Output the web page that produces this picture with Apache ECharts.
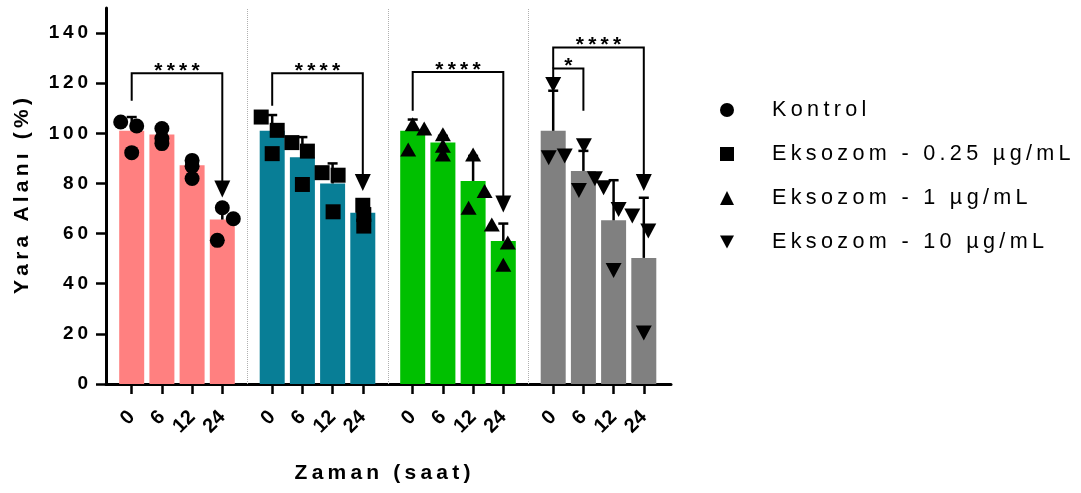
<!DOCTYPE html>
<html><head><meta charset="utf-8">
<script src="https://cdn.jsdelivr.net/npm/echarts@6/dist/echarts.min.js"></script>
<style>html,body{margin:0;padding:0;background:#fff}#c{width:1081px;height:493px}</style>
</head><body><div id="c"></div>
<script>
// ---------- data ----------
const TIMES = ['0', '6', '12', '24'];
const GROUPS = ['Kontrol', 'Eksozom - 0.25 µg/mL', 'Eksozom - 1 µg/mL', 'Eksozom - 10 µg/mL'];
const Y_TICKS = [0, 20, 40, 60, 80, 100, 120, 140];

// bar means (Yara Alanı %) per time 0,6,12,24
const KONTROL_MEAN = [101, 99.5, 87.3, 65.6];
const EKS025_MEAN  = [101, 90.5, 80, 68.3];
const EKS1_MEAN    = [101, 96.3, 81, 57];
const EKS10_MEAN   = [101, 85, 65.3, 50.3];

// upper error bar length (SD)
const KONTROL_SD = [5.5, 2.5, 3.2, 6.4];
const EKS025_SD  = [6.3, 8, 8, 3.7];
const EKS1_SD    = [4.5, 2.7, 10, 7];
const EKS10_SD   = [16, 8, 16, 24];

// individual replicate points per time
const KONTROL_PTS = [[104.5, 102.9, 92.3], [101.9, 97.9, 95.9], [89.2, 86.9, 82], [70.3, 65.9, 57.3]];
const EKS025_PTS  = [[106.5, 101.2, 91.9], [96.3, 92.9, 79.6], [84.3, 83.3, 68.7], [71.3, 67.6, 63]];
const EKS1_PTS    = [[103.6, 101.9, 93.6], [99.6, 95, 91.6], [91.6, 77, 70.3], [63.6, 56.4, 47.6]];
const EKS10_PTS   = [[119.5, 90.3, 91], [95, 77.2, 81.9], [78.3, 69.6, 45.3], [67, 61, 20.3]];

// significance brackets: group, from time idx, to time idx, top, left end, right end, arrow, label
const BR_GROUP = [0, 1, 2, 3, 3];
const BR_FROM  = [0, 0, 0, 0, 0];
const BR_TO    = [3, 3, 3, 3, 1];
const BR_TOP   = [124, 124, 124.5, 134.2, 125.9];
const BR_LEFT  = [113, 111, 109, 125.9, 121];
const BR_RIGHT = [74.4, 77, 68.4, 77, 109];
const BR_ARROW = [1, 1, 1, 1, 0];
const BR_LABEL = ['****', '****', '****', '****', '*'];

// ---------- layout / style ----------
const MEANS = [KONTROL_MEAN, EKS025_MEAN, EKS1_MEAN, EKS10_MEAN];
const SDS = [KONTROL_SD, EKS025_SD, EKS1_SD, EKS10_SD];
const PTS = [KONTROL_PTS, EKS025_PTS, EKS1_PTS, EKS10_PTS];
const BAR_COLORS = ['#FF8080', '#087E96', '#00C000', '#808080'];
const SYMBOLS = ['circle', 'rect', 'triangle', 'path://M0,0L16,0L8,15Z'];
const SYM_SIZES = [15, 15, [16, 14], [16, 15]];
// horizontal scatter spread of replicate markers (px)
const JITTER = [
  [[-11, 5, 0], [0, 0, 0], [0, 0, 0], [0, 11, -5]],
  [[-11, 5, 0], [-10.5, 5, 0], [-10.5, 5.5, 0.5], [0, 1, 1]],
  [[0, 11.5, -4.5], [0, 0, 0], [0, 11.5, -4.5], [-11.5, 4.5, 0]],
  [[0, -4.5, 11.5], [0.5, -4.5, 11.5], [-10, 5, 0], [-11.5, 4.5, 0]]
];
const FIRST = 25.7, GROUP_STEP = 140.5, BAR_STEP = 30.2, X_MAX = 565;
const pos = (g, t) => FIRST + g * GROUP_STEP + t * BAR_STEP;
const POSITIONS = [];
const POS_LABEL = [];
for (let g = 0; g < 4; g++) for (let t = 0; t < 4; t++) { POSITIONS.push(pos(g, t)); POS_LABEL.push(TIMES[t]); }
const SEPS = [0, 1, 2].map(g => (pos(g, 3) + pos(g + 1, 0)) / 2);

const FONT = '"Liberation Sans", Arial, sans-serif';
const sp = s => String(s).split('').join('\u2009');

const barData = [];
const errData = [];
for (let g = 0; g < 4; g++) for (let t = 0; t < 4; t++) {
  barData.push({ value: [pos(g, t), MEANS[g][t]], itemStyle: { color: BAR_COLORS[g] } });
  errData.push([pos(g, t), MEANS[g][t], MEANS[g][t] + SDS[g][t]]);
}
const brData = BR_GROUP.map((g, i) => [pos(g, BR_FROM[i]), pos(g, BR_TO[i]), BR_TOP[i], BR_LEFT[i], BR_RIGHT[i], BR_ARROW[i]]);

const scatterSeries = GROUPS.map((name, g) => {
  const data = [];
  for (let t = 0; t < 4; t++) for (let r = 0; r < 3; r++) data.push([pos(g, t) + JITTER[g][t][r], PTS[g][t][r]]);
  return {
    name, type: 'scatter', data, symbol: SYMBOLS[g], symbolSize: SYM_SIZES[g],
    itemStyle: { color: '#000', opacity: 1 }, z: 6, silent: true
  };
});

const chart = echarts.init(document.getElementById('c'), null, { renderer: 'canvas' });
chart.setOption({
  animation: false,
  backgroundColor: '#fff',
  grid: { left: 106, right: 410, top: 8, bottom: 109, containLabel: false, outerBoundsMode: 'none' },
  legend: {
    orient: 'vertical', left: 715, top: 94, align: 'left',
    itemWidth: 14, itemHeight: 14, itemGap: 22,
    data: GROUPS,
    formatter: n => sp(n),
    textStyle: { fontFamily: FONT, fontSize: 21.6, lineHeight: 21, color: '#000', padding: [0, 0, 0, 33] },
    selectedMode: false
  },
  xAxis: {
    type: 'value', min: 0, max: X_MAX,
    name: sp('Zaman (saat)'), nameLocation: 'middle', nameGap: 79,
    nameTextStyle: { fontFamily: FONT, fontSize: 21, fontWeight: 'bold', color: '#000', padding: [0, 12, 0, 0] },
    axisLine: { show: true, onZero: false, lineStyle: { color: '#000', width: 3 } },
    axisTick: { show: true, customValues: POSITIONS, length: 10, lineStyle: { color: '#000', width: 2.5 } },
    axisLabel: {
      customValues: POSITIONS, rotate: 45, margin: 30,
      formatter: v => { let bi = 0; POSITIONS.forEach((p, i) => { if (Math.abs(p - v) < Math.abs(POSITIONS[bi] - v)) bi = i; }); return POS_LABEL[bi]; },
      fontFamily: FONT, fontSize: 20, fontWeight: 'bold', color: '#000'
    },
    splitLine: { show: false }
  },
  yAxis: {
    type: 'value', min: 0, max: 150,
    name: sp('Yara Alanı (%)'), nameLocation: 'middle', nameGap: 73, nameRotate: 90,
    nameTextStyle: { fontFamily: FONT, fontSize: 21, fontWeight: 'bold', color: '#000' },
    axisLine: { show: true, lineStyle: { color: '#000', width: 3 } },
    axisTick: { show: true, customValues: Y_TICKS, length: 10, lineStyle: { color: '#000', width: 2.5 } },
    axisLabel: { customValues: Y_TICKS, margin: 18, formatter: v => sp(v), fontFamily: FONT, fontSize: 19, fontWeight: 'bold', color: '#000' },
    splitLine: { show: false }
  },
  series: [
    {
      name: 'bars', type: 'bar', data: barData, barWidth: 25, z: 2, silent: true,
      markLine: {
        silent: true, symbol: 'none', animation: false, label: { show: false },
        lineStyle: { type: 'dotted', color: '#b0b0b0', width: 1 },
        emphasis: { disabled: true },
        data: SEPS.map(x => ({ xAxis: x }))
      }
    },
    {
      name: 'err', type: 'custom', data: errData, z: 4, silent: true,
      encode: { x: 0, y: [1, 2] },
      renderItem: (params, api) => {
        const p0 = api.coord([api.value(0), api.value(1)]);
        const p1 = api.coord([api.value(0), api.value(2)]);
        const st = { stroke: '#000', lineWidth: 2.5 };
        return { type: 'group', children: [
          { type: 'line', shape: { x1: p0[0], y1: p0[1], x2: p1[0], y2: p1[1] }, style: st },
          { type: 'line', shape: { x1: p1[0] - 5, y1: p1[1], x2: p1[0] + 5, y2: p1[1] }, style: st }
        ] };
      }
    },
    {
      name: 'brackets', type: 'custom', data: brData, z: 5, silent: true,
      encode: { x: [0, 1], y: [2, 3, 4] },
      renderItem: (params, api) => {
        const x1 = api.value(0), x2 = api.value(1), top = api.value(2), le = api.value(3), re = api.value(4), arrow = api.value(5);
        const a = api.coord([x1, le]), b = api.coord([x1, top]), c = api.coord([x2, top]), d = api.coord([x2, re]);
        const AH = 17, AW = 8;
        const endY = arrow ? d[1] - AH + 1 : d[1];
        const children = [
          { type: 'polyline', shape: { points: [a, b, c, [d[0], endY]] }, style: { stroke: '#000', lineWidth: 2, fill: null } },
          { type: 'text', style: { text: sp(BR_LABEL[params.dataIndex]), x: (b[0] + c[0]) / 2, y: b[1] - 2,
              align: 'center', verticalAlign: 'middle', fontFamily: FONT, fontSize: 21, fontWeight: 'bold', fill: '#000' } }
        ];
        if (arrow) children.push({ type: 'polygon', shape: { points: [[d[0] - AW, d[1] - AH], [d[0] + AW, d[1] - AH], [d[0], d[1]]] }, style: { fill: '#000' } });
        return { type: 'group', children };
      }
    },
    ...scatterSeries
  ]
});
</script></body></html>
